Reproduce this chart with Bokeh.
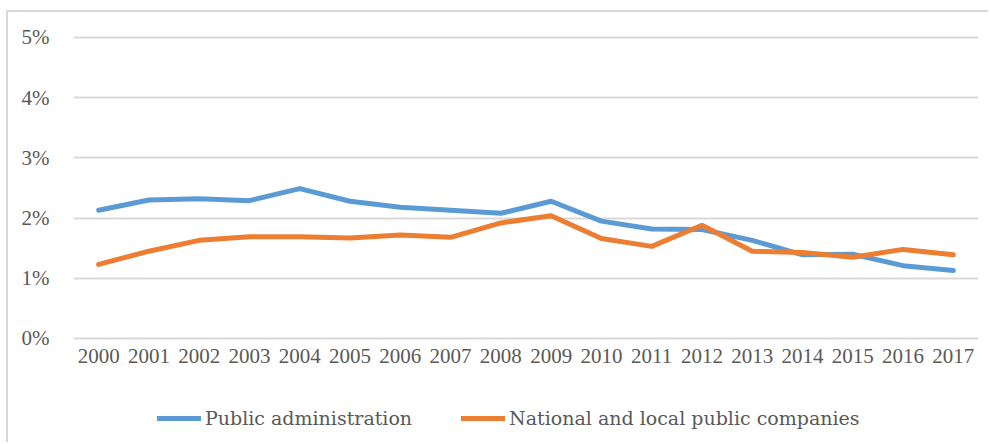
from bokeh.plotting import figure
from bokeh.models import ColumnDataSource, Legend, LegendItem, FixedTicker, CustomJSTickFormatter
from bokeh.core.properties import value
from bokeh.embed import file_html
from bokeh.resources import INLINE

years = list(range(2000, 2018))
year_labels = [str(y) for y in years]
public_admin = [2.13, 2.30, 2.32, 2.29, 2.49, 2.28, 2.18, 2.13, 2.08, 2.28,
                1.95, 1.82, 1.81, 1.63, 1.39, 1.40, 1.21, 1.13]
public_companies = [1.23, 1.45, 1.63, 1.69, 1.69, 1.67, 1.72, 1.68, 1.92, 2.04,
                    1.66, 1.53, 1.88, 1.45, 1.43, 1.35, 1.48, 1.39]
y_ticks = [0, 1, 2, 3, 4, 5]
series_names = ["Public administration", "National and local public companies"]
colors = ["#5b9bd5", "#ed7d31"]

src = ColumnDataSource(dict(year=years, label=year_labels, pa=public_admin, pc=public_companies))

# px per 1% = 60.2 ; frame extends below 0 to hold year labels and legend
p = figure(width=982, height=432, output_backend="svg", toolbar_location=None,
           x_range=(1999.5, 2017.5), y_range=(-1.761, 5.033),
           min_border_left=65, min_border_right=12, min_border_top=23, min_border_bottom=0)
p.outline_line_color = None
p.background_fill_color = "white"
p.border_fill_color = "white"
p.styles = {"border-top": "2px solid #d9d9d9", "border-left": "2px solid #d9d9d9",
            "margin-top": "10px", "margin-left": "6px"}

r1 = p.line("year", "pa", source=src, line_color=colors[0], line_width=5, line_join="round", line_cap="round")
r2 = p.line("year", "pc", source=src, line_color=colors[1], line_width=5, line_join="round", line_cap="round")

font = "Liberation Serif"
# year tick labels, placed just under the 0% line
p.text(x="year", y=-0.29, text="label", source=src, text_font=value(font), text_font_size="21px",
       text_color="#595959", text_align="center", text_baseline="middle")

p.xaxis.visible = False
p.yaxis.ticker = FixedTicker(ticks=y_ticks)
p.yaxis.formatter = CustomJSTickFormatter(code="return tick + '%';")
ax = p.yaxis[0]
ax.axis_line_color = None
ax.major_tick_line_color = None
ax.minor_tick_line_color = None
ax.major_label_text_font = font
ax.major_label_text_font_size = "21px"
ax.major_label_text_color = "#595959"
ax.major_label_standoff = 18
p.xgrid.grid_line_color = None
p.ygrid.grid_line_color = "#d9d9d9"
p.ygrid.grid_line_width = 2

legend = Legend(items=[LegendItem(label=series_names[0], renderers=[r1]),
                       LegendItem(label=series_names[1], renderers=[r2])],
                orientation="horizontal", location=(84, 15),
                label_text_font="DejaVu Serif", label_text_font_size="19px", label_text_color="#595959",
                glyph_width=44, glyph_height=20, label_standoff=4, spacing=49,
                border_line_color=None, background_fill_alpha=0, padding=0, margin=0)
p.add_layout(legend, "center")

open("out.html", "w").write(file_html(p, INLINE))
